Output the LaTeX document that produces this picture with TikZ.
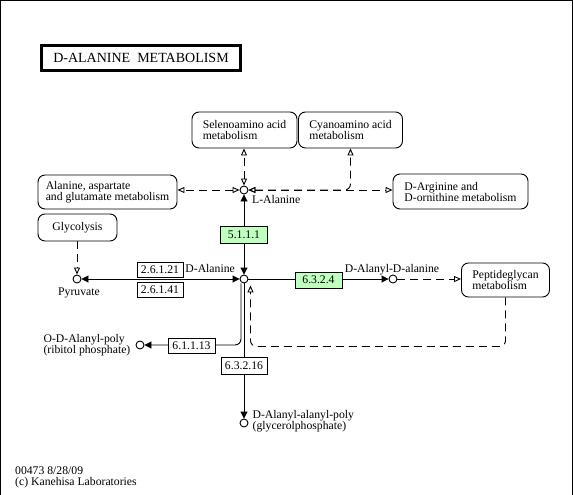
\documentclass[tikz,border=0pt]{standalone}
\usepackage{fontspec}
\setmainfont{Liberation Serif}
\usepackage{tikz}
\usetikzlibrary{arrows.meta, positioning, backgrounds}
\definecolor{ecgreen}{RGB}{191,255,191}
\newcommand{\keggfont}{\fontsize{11.7}{11}\selectfont}

\begin{document}
\begin{tikzpicture}[
    x=1pt, y=-1pt,
    % Box styles
    mapbox/.style={draw, line width=0.9pt, rounded corners=7pt, fill=white, inner sep=0pt, align=left, font=\keggfont},
    ecbox/.style={draw, line width=0.9pt, fill=white, inner sep=0pt, minimum width=46pt, minimum height=16pt, font=\keggfont},
    ecknown/.style={ecbox, fill=ecgreen},
    titlebox/.style={draw, line width=2.6pt, inner sep=0pt, minimum width=199pt, minimum height=25pt, font=\fontsize{14}{14}\selectfont},
    % Compound styles
    cpd/.style={circle, draw, line width=0.9pt, fill=white, inner sep=0pt, minimum size=8pt},
    cpdlabel/.style={font=\keggfont, inner sep=0pt, align=left},
    % Connector styles
    react/.style={line width=0.9pt, -{Triangle[length=7pt,width=7pt]}},
    revreact/.style={line width=0.9pt, {Triangle[length=7pt,width=7pt]}-{Triangle[length=7pt,width=7pt]}},
    maplink/.style={line width=0.9pt, dash pattern=on 8pt off 5pt, -{Triangle[open,length=7pt,width=6pt]}},
    revlink/.style={line width=0.9pt, dash pattern=on 8pt off 5pt, {Triangle[open,length=7pt,width=6pt]}-{Triangle[open,length=7pt,width=6pt]}}
]
\useasboundingbox (0,0) rectangle (573,495);

% Frame
\draw[line width=1pt] (0.5,495) -- (0.5,0.5) -- (572.5,0.5) -- (572.5,495);

% Title
\node[titlebox] (title) at (141,58) {D-ALANINE\ \ METABOLISM};

% Pathway maps
\node[mapbox, minimum width=105pt, minimum height=36pt] (seleno) at (244.5,130) {Selenoamino acid\\metabolism};
\node[mapbox, minimum width=104pt, minimum height=36pt] (cyano) at (350.5,130) {Cyanoamino acid\\metabolism};
\node[mapbox, minimum width=139pt, minimum height=34pt] (alaasp) at (107.5,192) {Alanine, aspartate\\and glutamate metabolism};
\node[mapbox, minimum width=79pt, minimum height=27pt] (glycolysis) at (77.5,227.5) {Glycolysis};
\node[mapbox, minimum width=135pt, minimum height=35pt] (argorn) at (460.5,191.5) {D-Arginine and\\D-ornithine metabolism};
\node[mapbox, minimum width=88pt, minimum height=34pt] (peptido) at (505.5,280) {Peptideglycan\\metabolism};

% Compounds
\node[cpd] (lala) at (244,190) {};
\node[cpd] (dala) at (244,279) {};
\node[cpd] (pyr) at (77,279) {};
\node[cpd] (daladala) at (393,279) {};
\node[cpd] (odala) at (140,345) {};
\node[cpd] (dalapoly) at (244,423) {};

\node[cpdlabel, anchor=base west] at (252,203) {L-Alanine};
\node[cpdlabel, anchor=base east] at (235,272) {D-Alanine};
\node[cpdlabel, anchor=base] at (79,295) {Pyruvate};
\node[cpdlabel, anchor=base] at (392,272) {D-Alanyl-D-alanine};
\node[cpdlabel, anchor=east, left=5pt of odala] {O-D-Alanyl-poly\\(ribitol phosphate)};
\node[cpdlabel, anchor=west, right=4pt of dalapoly, yshift=2pt] {D-Alanyl-alanyl-poly\\(glycerolphosphate)};

% Enzymes
\node[ecknown, minimum width=47pt, minimum height=17pt] (ec5111) at (244,235) {5.1.1.1};
\node[ecbox, minimum height=15pt] (ec26121) at (160,269.5) {2.6.1.21};
\node[ecbox, minimum height=15pt] (ec26141) at (160,289.5) {2.6.1.41};
\node[ecknown, minimum width=47pt] (ec6324) at (318.5,280) {6.3.2.4};
\node[ecbox, minimum width=47pt, minimum height=15pt] (ec61113) at (191.5,345.5) {6.1.1.13};
\node[ecbox, minimum height=17pt] (ec63216) at (244,365.5) {6.3.2.16};

\begin{scope}[on background layer]
% Reactions
\draw[revreact] (dala.north) -- (lala.south);
\draw[revreact] (pyr.east) -- (dala.west);
\draw[react] (dala.east) -- (daladala.west);
\draw[react] (dala.south) -- (dalapoly.north);
\draw[react, rounded corners=6pt] ([xshift=-3pt]dala.south) |- (odala.east);

% Links to other maps
\draw[revlink] (lala.north) -- (seleno.south -| lala);
\draw[revlink, rounded corners=6pt] (lala.east) -| (cyano.south);
\draw[revlink] (lala.east) -- (argorn.west |- lala);
\draw[revlink] (lala.west) -- (alaasp.east |- lala);
\draw[maplink] (glycolysis.south -| pyr) -- (pyr.north);
\draw[maplink] (daladala.east) -- (peptido.west |- daladala);
\coordinate (pgbend) at (250.5,346.5);
\draw[maplink, rounded corners=6pt] (peptido.south) |- (pgbend) -- ([xshift=6.5pt,yshift=-2pt]dala.south);
\end{scope}

% Footer
\node[cpdlabel, anchor=north west] (footer) at (15,467) {00473 8/28/09\\(c) Kanehisa Laboratories};

\end{tikzpicture}
\end{document}
